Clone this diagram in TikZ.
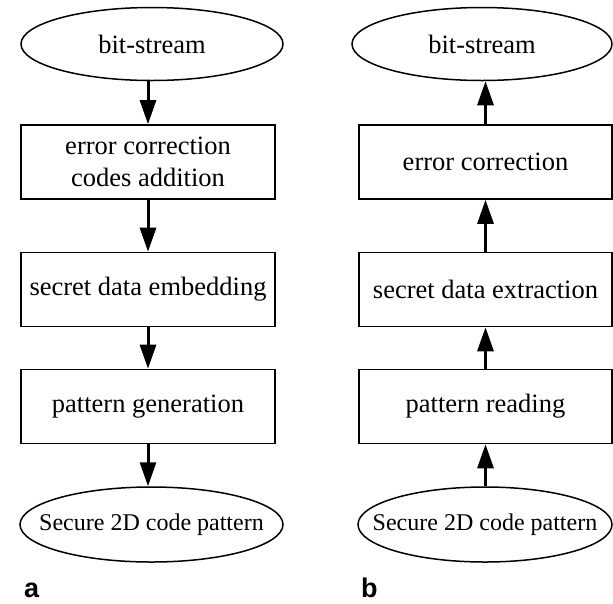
\documentclass[tikz,border=0pt]{standalone}
\usepackage{fontspec}
\setmainfont{Liberation Serif}
\newfontfamily\labelfont{Liberation Sans}
\usetikzlibrary{shapes.geometric,arrows.meta}

\begin{document}
\begin{tikzpicture}[x=1pt,y=-1pt,
  every node/.style={font=\fontsize{26.5}{32}\selectfont, inner sep=0pt},
  % the outline size is set by minimum width/height, not by the text
  terminal/.style={ellipse, draw, line width=1.5pt, minimum height=73pt,
                   inner xsep=-30pt, inner ysep=0pt},
  stepbox/.style={rectangle, draw, line width=1.6pt, minimum height=74pt, align=center},
  flow/.style={line width=3pt, -{Triangle[length=24pt,width=16pt]}},
  panel/.style={font=\labelfont\bfseries\fontsize{27}{30}\selectfont, anchor=base west}
]
\useasboundingbox (0,0) rectangle (613,603);

% (a) encoding chain
\node[terminal, minimum width=262pt] (a0) at (152,44) {bit-stream};
\node[stepbox, minimum width=254pt] (a1) at (148,162) {error correction\\codes addition};
\node[stepbox, minimum width=254pt] (a2) at (148,289.5) {secret data embedding};
\node[stepbox, minimum width=254pt] (a3) at (148,406.5) {pattern generation};
\node[terminal, minimum width=263pt, minimum height=75pt,
      font=\fontsize{24}{28}\selectfont] (a4) at (151.5,524.5) {Secure 2D code pattern};

\draw[flow] (a1.north |- a0.south) -- (a1.north);
\draw[flow] (a1.south) -- (a2.north);
\draw[flow] (a2.south) -- (a3.north);
\draw[flow] (a3.south) -- (a3.south |- a4.north);

% (b) decoding chain
\node[terminal, minimum width=260pt] (b0) at (482,44) {bit-stream};
\node[stepbox, minimum width=253pt] (b1) at (485.5,162) {error correction};
\node[stepbox, minimum width=253pt] (b2) at (485.5,289.5) {secret data extraction};
\node[stepbox, minimum width=253pt] (b3) at (485.5,406.5) {pattern reading};
\node[terminal, minimum width=254pt, minimum height=75pt,
      font=\fontsize{24}{28}\selectfont] (b4) at (485,524.5) {Secure 2D code pattern};

\draw[flow] (b1.north) -- (b1.north |- b0.south);
\draw[flow] (b2.north) -- (b1.south);
\draw[flow] (b3.north) -- (b2.south);
\draw[flow] (b3.south |- b4.north) -- (b3.south);

% panel labels
\node[panel] (la) at (24,597) {a};
\node[panel] (lb) at (361,597) {b};
\end{tikzpicture}
\end{document}
